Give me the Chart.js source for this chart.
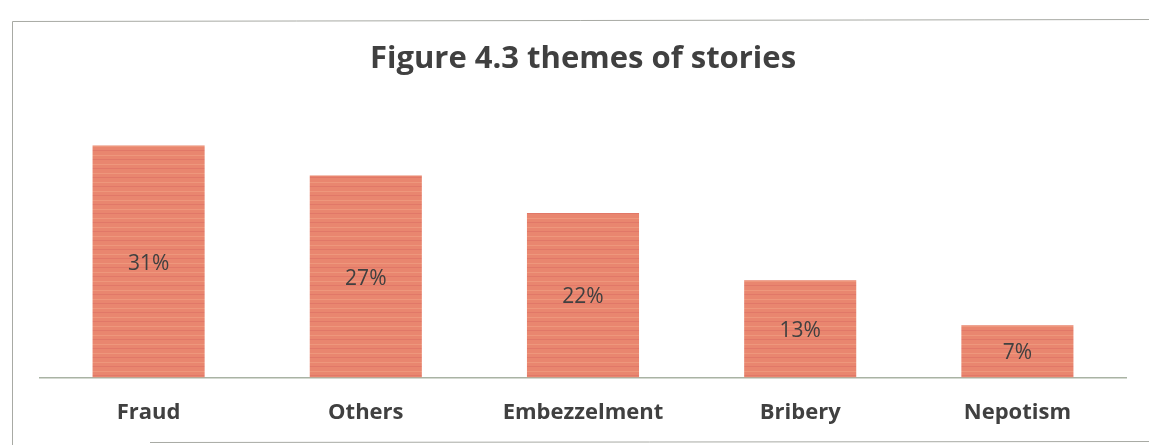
<!DOCTYPE html>
<html>
<head>
<meta charset="utf-8">
<script src="https://cdn.jsdelivr.net/npm/chart.js@4.4.1/dist/chart.umd.min.js"></script>
<style>
html,body{margin:0;padding:0;background:#fff;}
#wrap{width:1149px;height:445px;position:relative;}
</style>
</head>
<body>
<div id="wrap"><canvas id="c" width="1149" height="445"></canvas></div>
<script>
const categories = ["Fraud", "Others", "Embezzelment", "Bribery", "Nepotism"];
const shares = [31, 27, 22, 13, 7];
const valueLabels = ["31%", "27%", "22%", "13%", "7%"];
const chartTitle = "Figure 4.3 themes of stories";

// striped fill pattern imitating the scanned bars
function makePattern() {
  const p = document.createElement('canvas');
  p.width = 8; p.height = 9;
  const g = p.getContext('2d');
  g.fillStyle = '#E9866F';
  g.fillRect(0, 0, 8, 9);
  g.fillStyle = 'rgba(242,165,135,0.55)';
  g.fillRect(0, 2, 8, 1);
  g.fillStyle = 'rgba(215,105,95,0.45)';
  g.fillRect(0, 6, 8, 1);
  return document.getElementById('c').getContext('2d').createPattern(p, 'repeat');
}

const frame = {
  id: 'frame',
  beforeDraw(chart) {
    const ctx = chart.ctx;
    ctx.save();
    ctx.fillStyle = '#fff';
    ctx.fillRect(0, 0, chart.width, chart.height);
    ctx.strokeStyle = '#a8aaa4';
    ctx.lineWidth = 1;
    ctx.beginPath();
    ctx.moveTo(12.5, 445); ctx.lineTo(12.5, 21.5); ctx.lineTo(1149, 19.5);
    ctx.moveTo(150, 442.5); ctx.lineTo(1149, 441.5);
    ctx.stroke();
    ctx.restore();
  }
};

const barLabels = {
  id: 'barLabels',
  afterDatasetsDraw(chart) {
    const ctx = chart.ctx;
    const meta = chart.getDatasetMeta(0);
    ctx.save();
    ctx.font = '21px "Open Sans", "Liberation Sans", sans-serif';
    ctx.fillStyle = '#404040';
    ctx.textAlign = 'center';
    ctx.textBaseline = 'middle';
    meta.data.forEach((bar, i) => {
      const y = (bar.y + bar.base) / 2 + 2;
      ctx.fillText(valueLabels[i], bar.x, y);
    });
    ctx.restore();
  }
};

new Chart(document.getElementById('c'), {
  type: 'bar',
  data: {
    labels: categories,
    datasets: [{
      data: shares,
      backgroundColor: makePattern(),
      borderWidth: 0,
      barPercentage: 0.516,
      categoryPercentage: 1.0
    }]
  },
  options: {
    responsive: false,
    animation: false,
    layout: { padding: { left: 40, right: 23, top: 0, bottom: -3 } },
    plugins: {
      legend: { display: false },
      tooltip: { enabled: false },
      title: {
        display: true,
        text: chartTitle,
        color: '#404040',
        font: { family: '"Open Sans", "Liberation Sans", sans-serif', size: 31, weight: 'bold' },
        padding: { top: 41, bottom: 0 }
      }
    },
    scales: {
      x: {
        grid: { display: false, drawTicks: false },
        border: { display: true, color: '#a9b3a4', width: 1.5 },
        ticks: {
          color: '#404040',
          padding: 22,
          font: { family: '"Open Sans", "Liberation Sans", sans-serif', size: 22, weight: 'bold' }
        }
      },
      y: {
        display: false,
        min: 0,
        max: 40
      }
    }
  },
  plugins: [frame, barLabels]
});
</script>
</body>
</html>
